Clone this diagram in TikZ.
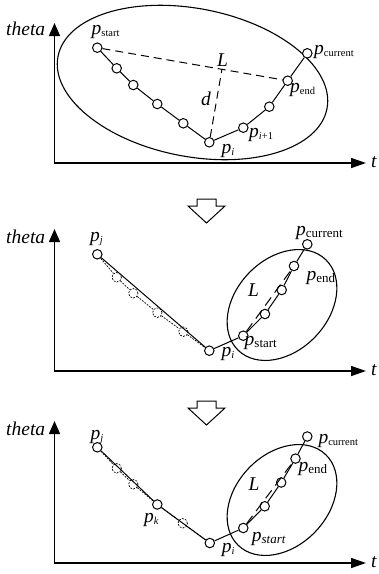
\documentclass[tikz,border=0pt]{standalone}
\usepackage{fontspec}
\setmainfont{Liberation Serif}
\usetikzlibrary{arrows.meta,calc}

\newcommand{\sml}[1]{\raisebox{-2pt}{\fontsize{10.5}{10.5}\selectfont #1}}
\newcommand{\smb}[1]{\raisebox{-2pt}{\fontsize{13}{13}\selectfont #1}}

\begin{document}
\begin{tikzpicture}[x=1pt,y=-1pt,
    pt/.style={circle,draw,fill=white,inner sep=0pt,minimum size=9.5pt,line width=1pt},
    ghost/.style={pt,dash pattern=on 1.8pt off 1.3pt,line width=0.7pt},
    lbl/.style={inner sep=0pt,anchor=base west,font=\fontsize{19.5}{21}\selectfont},
    axis/.style={line width=1.5pt,line join=miter,{Triangle[width=11pt,length=13pt]}-{Triangle[width=10pt,length=15pt]}},
    seg/.style={line width=1pt},
    chord/.style={line width=1pt,dash pattern=on 8pt off 5pt},
    trail/.style={line width=0.7pt,dash pattern=on 1.8pt off 1.3pt},
    blob/.style={line width=1.1pt},
    bigarrow/.style={line width=1pt,line join=miter}]
\useasboundingbox (0,0) rectangle (379,574);

% first panel
\draw[axis] (54.5,23) -- (54.5,163) -- (366,163);
\node[lbl] (tha) at (6,35) {\textit{theta}};
\node[lbl,anchor=base] (ta) at (374,167) {\textit{t}};
\draw[blob,rotate around={-11:(192.5,82.5)}] (192.5,82.5) ellipse [x radius=137,y radius=74];
\node[pt] (sa) at (97.3,47.7) {};
\node[pt] (a1) at (116.7,68.3) {};
\node[pt] (a2) at (133.3,85) {};
\node[pt] (a3) at (157.3,104) {};
\node[pt] (a4) at (183.3,123.3) {};
\node[pt] (ia) at (209.3,142.3) {};
\node[pt] (na) at (243.3,127.7) {};
\node[pt] (a5) at (269.3,106.7) {};
\node[pt] (ea) at (287.7,80.7) {};
\node[pt] (ca) at (307.3,53.3) {};
\draw[seg] (sa) -- (a1) -- (a2) -- (a3) -- (a4) -- (ia) -- (na) -- (a5) -- (ea) -- (ca);
\coordinate (fa) at ($(sa.center)!(ia.center)!(ea.center)$);
\draw[chord] (sa) -- (ea);
\draw[chord] (ia) -- (fa);
\node[lbl] (lsa) at (91.5,34) {\textit{p}\sml{start}};
\node[lbl] (lca) at (314,54) {\textit{p}\sml{current}};
\node[lbl] (lea) at (290,92) {\textit{p}\sml{end}};
\node[lbl] (lna) at (249,137) {\textit{p}\sml{\textit{i}+1}};
\node[lbl] (lia) at (221.5,153) {\textit{p}\sml{\textit{i}}};
\node[lbl,anchor=base] (La) at (222.5,66) {\textit{L}};
\node[lbl,anchor=base] (da) at (206,105) {\textit{d}};

\draw[bigarrow] (197,199) -- (216,199) -- (216,206) -- (225,206) -- (206.5,223) -- (188,206) -- (197,206) -- cycle;

% second panel
\draw[axis] (54.5,229) -- (54.5,371) -- (366,371);
\node[lbl] (thb) at (6,243) {\textit{theta}};
\node[lbl,anchor=base] (tb) at (374,375) {\textit{t}};
\draw[blob,rotate around={46:(282,305)}] (282,305) ellipse [x radius=63,y radius=46];
\node[pt] (jb) at (97.3,254.3) {};
\node[ghost] (g1) at (116.7,277.3) {};
\node[ghost] (g2) at (133.3,293.3) {};
\node[ghost] (g3) at (157.3,312.7) {};
\node[ghost] (g4) at (183.3,331.7) {};
\node[pt] (ib) at (209.3,350.7) {};
\node[pt] (sb) at (243.3,335.7) {};
\node[pt] (b1) at (265,314) {};
\node[pt] (b2) at (281.7,290) {};
\node[pt] (eb) at (294,266) {};
\node[pt] (cb) at (307.3,244.3) {};
\draw[trail] (jb) -- (g1) -- (g2) -- (g3) -- (g4) -- (ib);
\draw[seg] (jb) -- (ib) -- (sb) -- (b1) -- (b2) -- (eb) -- (cb);
\draw[chord,dash pattern=on 10pt off 6pt] (sb) -- (eb);
\node[lbl] (ljb) at (90,241) {\textit{p}\sml{\textit{j}}};
\node[lbl] (lcb) at (296,235) {\textit{p}\smb{current}};
\node[lbl] (leb) at (306.5,280) {\textit{p}\smb{end}};
\node[lbl] (Lb) at (248,296) {\textit{L}};
\node[lbl] (lsb) at (244.5,345) {\textit{p}\smb{start}};
\node[lbl] (lib) at (221.5,356) {\textit{p}\sml{\textit{i}}};

\draw[bigarrow] (197,401) -- (216,401) -- (216,408) -- (225,408) -- (206.5,425) -- (188,408) -- (197,408) -- cycle;

% third panel
\draw[axis] (54.5,421) -- (54.5,563) -- (366,563);
\node[lbl] (thc) at (6,435) {\textit{theta}};
\node[lbl,anchor=base] (tc) at (374,567) {\textit{t}};
\draw[blob,rotate around={46:(282,500)}] (282,500) ellipse [x radius=63,y radius=46];
\node[pt] (jc) at (97.3,447.3) {};
\node[ghost] (h1) at (116.7,468.3) {};
\node[ghost] (h2) at (133.3,484.3) {};
\node[pt] (kc) at (157.3,504.5) {};
\node[ghost] (h3) at (182.7,523.3) {};
\node[pt] (ic) at (209.8,543) {};
\node[pt] (sc) at (243.3,528) {};
\node[pt] (c1) at (264.7,506.3) {};
\node[pt] (c2) at (281.2,482.5) {};
\node[pt] (ec) at (295.5,458.6) {};
\node[pt] (cc) at (307.3,436.5) {};
\draw[trail] (jc) -- (h1) -- (h2) -- (kc) -- (h3) -- (ic);
\draw[seg] (jc) -- (kc) -- (ic) -- (sc) -- (c1) -- (c2) -- (ec) -- (cc);
\draw[chord,dash pattern=on 10pt off 6pt] (sc) -- (ec);
\node[lbl] (ljc) at (90.5,439) {\textit{p}\sml{\textit{j}}};
\node[lbl] (lkc) at (144,522) {\textit{p}\sml{\textit{k}}};
\node[lbl] (lic) at (221.7,552.7) {\textit{p}\sml{\textit{i}}};
\node[lbl] (lsc) at (251.7,541.7) {\textit{p}\smb{\textit{start}}};
\node[lbl] (Lc) at (248.3,490) {\textit{L}};
\node[lbl] (lec) at (298.3,471.7) {\textit{p}\smb{end}};
\node[lbl] (lcc) at (318.3,443.3) {\textit{p}\sml{current}};
\end{tikzpicture}
\end{document}
